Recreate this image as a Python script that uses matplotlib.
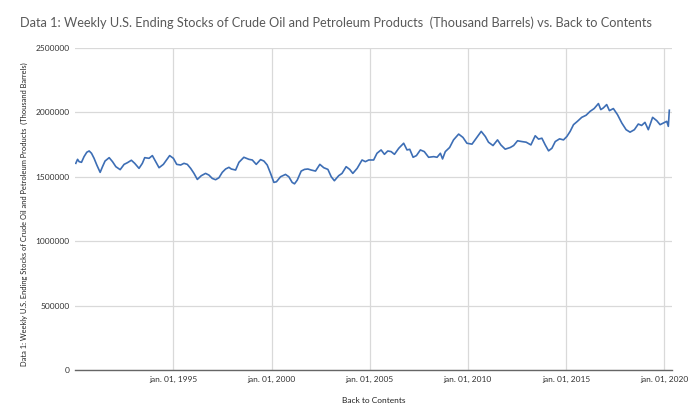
import numpy as np
import matplotlib
matplotlib.use('Agg')
import matplotlib.pyplot as plt

# weekly stocks (decimal year, thousand barrels)
years = [
    1990.03, 1990.12, 1990.20, 1990.32, 1990.45, 1990.59, 1990.71, 1990.83, 1990.96,
    1991.10, 1991.27, 1991.39, 1991.52, 1991.73, 1991.90, 1992.07, 1992.29, 1992.49,
    1992.66, 1992.86, 1993.03, 1993.25, 1993.42, 1993.54, 1993.76, 1993.93, 1994.10,
    1994.27, 1994.49, 1994.69, 1994.81, 1995.00, 1995.17, 1995.37, 1995.54, 1995.71,
    1995.88, 1996.05, 1996.22, 1996.42, 1996.64, 1996.81, 1996.98, 1997.15, 1997.32,
    1997.49, 1997.66, 1997.83, 1997.95, 1998.17, 1998.34, 1998.59, 1998.85, 1999.02,
    1999.22, 1999.44, 1999.61, 1999.78, 1999.95, 2000.12, 2000.25, 2000.46, 2000.71,
    2000.88, 2001.05, 2001.17, 2001.31, 2001.51, 2001.68, 2001.85, 2002.02, 2002.24,
    2002.46, 2002.66, 2002.87, 2003.04, 2003.20, 2003.42, 2003.59, 2003.80, 2003.98,
    2004.14, 2004.36, 2004.61, 2004.78, 2004.95, 2005.20, 2005.37, 2005.58, 2005.75,
    2005.92, 2006.09, 2006.26, 2006.48, 2006.73, 2006.90, 2007.04, 2007.21, 2007.38,
    2007.58, 2007.78, 2008.00, 2008.26, 2008.43, 2008.60, 2008.71, 2008.85, 2009.07,
    2009.27, 2009.53, 2009.75, 2009.95, 2010.21, 2010.43, 2010.68, 2010.89, 2011.05,
    2011.28, 2011.51, 2011.68, 2011.90, 2012.16, 2012.33, 2012.53, 2012.75, 2012.97,
    2013.21, 2013.43, 2013.60, 2013.77, 2013.94, 2014.11, 2014.28, 2014.45, 2014.67,
    2014.87, 2015.04, 2015.21, 2015.38, 2015.58, 2015.80, 2016.02, 2016.23, 2016.43,
    2016.65, 2016.77, 2016.90, 2017.07, 2017.21, 2017.41, 2017.62, 2017.84, 2018.06,
    2018.26, 2018.48, 2018.68, 2018.85, 2019.02, 2019.19, 2019.41, 2019.62, 2019.79,
    2019.96, 2020.13, 2020.21, 2020.26,
]
stocks = [
    1604000, 1635000, 1617000, 1612000, 1656000, 1690000, 1700000, 1682000, 1643000,
    1591000, 1534000, 1578000, 1622000, 1648000, 1617000, 1578000, 1555000, 1596000,
    1609000, 1628000, 1604000, 1565000, 1604000, 1648000, 1643000, 1664000, 1617000,
    1570000, 1596000, 1638000, 1664000, 1643000, 1596000, 1591000, 1604000, 1596000,
    1565000, 1526000, 1479000, 1508000, 1526000, 1513000, 1487000, 1477000, 1492000,
    1534000, 1560000, 1573000, 1560000, 1552000, 1612000, 1651000, 1635000, 1630000,
    1596000, 1633000, 1622000, 1591000, 1526000, 1456000, 1461000, 1500000, 1518000,
    1500000, 1456000, 1445000, 1474000, 1544000, 1557000, 1560000, 1552000, 1544000,
    1596000, 1570000, 1557000, 1500000, 1469000, 1508000, 1526000, 1578000, 1557000,
    1526000, 1565000, 1630000, 1617000, 1630000, 1630000, 1682000, 1708000, 1674000,
    1700000, 1695000, 1674000, 1721000, 1760000, 1708000, 1713000, 1651000, 1664000,
    1708000, 1695000, 1651000, 1656000, 1651000, 1682000, 1638000, 1695000, 1727000,
    1786000, 1831000, 1805000, 1760000, 1753000, 1799000, 1852000, 1812000, 1768000,
    1742000, 1786000, 1747000, 1714000, 1727000, 1742000, 1779000, 1773000, 1768000,
    1747000, 1818000, 1792000, 1799000, 1747000, 1701000, 1721000, 1773000, 1794000,
    1786000, 1812000, 1852000, 1904000, 1930000, 1961000, 1977000, 2008000, 2029000,
    2068000, 2021000, 2034000, 2060000, 2013000, 2029000, 1982000, 1917000, 1865000,
    1846000, 1865000, 1909000, 1898000, 1922000, 1865000, 1961000, 1935000, 1904000,
    1917000, 1930000, 1891000, 2016000,
]

tick_years = [1995, 2000, 2005, 2010, 2015, 2020]
tick_labels = ['jan. 01, %d' % y for y in tick_years]
y_ticks = [0, 500000, 1000000, 1500000, 2000000, 2500000]

title = ('Data 1: Weekly U.S. Ending Stocks of Crude Oil and Petroleum Products  '
         '(Thousand Barrels) vs. Back to Contents')
ylabel = 'Data 1: Weekly U.S. Ending Stocks of Crude Oil and Petroleum Products  (Thousand Barrels)'

plt.rcParams['font.family'] = ['Lato', 'DejaVu Sans']

fig = plt.figure(figsize=(6.9, 4.2), dpi=100)
ax = fig.add_axes([0.109, 0.119, 0.865, 0.767])

ax.plot(years, stocks, color='#3d6eb5', lw=1.2)

ax.set_xlim(1990.0, 2020.4)
ax.set_ylim(0, 2500000)
ax.set_xticks(tick_years)
ax.set_xticklabels(tick_labels, fontsize=6, color='#333333')
ax.set_yticks(y_ticks)
ax.set_yticklabels([str(v) for v in y_ticks], fontsize=6, color='#333333')
ax.tick_params(length=0, pad=4)

ax.grid(True, color='#d9d9d9', lw=0.9)
ax.set_axisbelow(True)
for s in ['top', 'right', 'left']:
    ax.spines[s].set_visible(False)
ax.spines['bottom'].set_color('#666666')
ax.spines['bottom'].set_linewidth(1.0)

fig.text(0.035, 0.49, ylabel, fontsize=5.4, color='#222222', rotation=90,
         ha='center', va='center')
ax.set_xlabel('Back to Contents', fontsize=6, color='#222222', labelpad=10)
fig.text(0.029, 0.947, title, fontsize=9.2, color='#595959', ha='left', va='center')

fig.savefig('out.png', dpi=100)
